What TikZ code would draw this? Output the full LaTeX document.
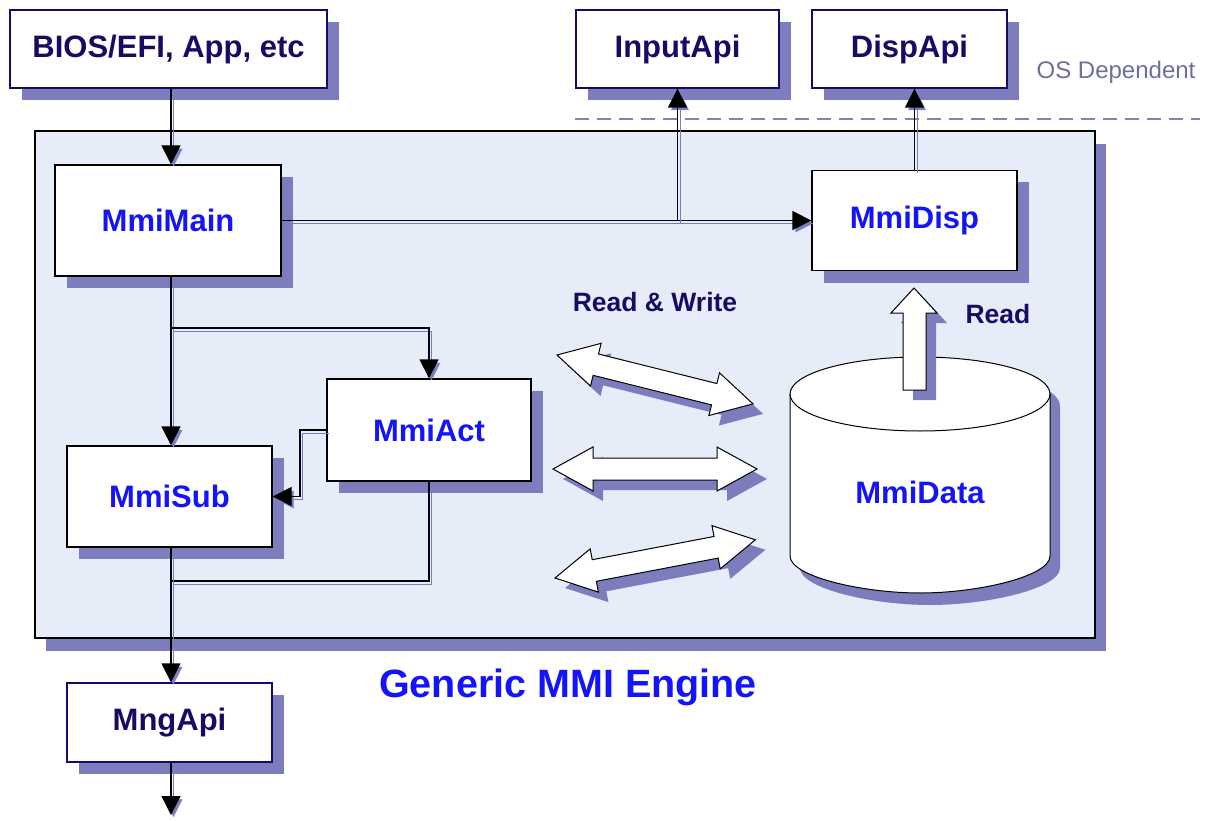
\documentclass[tikz,border=0pt]{standalone}
\usepackage{fontspec}
\setmainfont{Liberation Sans}
\usetikzlibrary{arrows.meta,shadows}

\definecolor{shadowc}{RGB}{125,125,190}
\definecolor{enginefill}{RGB}{230,236,248}
\definecolor{navytxt}{RGB}{25,10,100}
\definecolor{bluetxt}{RGB}{20,20,250}
\definecolor{navyline}{RGB}{20,10,110}
\definecolor{osgray}{RGB}{110,110,160}

\tikzset{
  boxbase/.style={rectangle, fill=white, line width=1.3pt, inner sep=0pt,
    font=\fontsize{31}{36}\selectfont\bfseries,
    drop shadow={shadow xshift=12pt, shadow yshift=-12pt, fill=shadowc, opacity=1}},
  apibox/.style={boxbase, draw=navyline, text=navytxt},
  mmibox/.style={boxbase, draw=black, text=bluetxt},
  plainconn/.style={line width=1.3pt,
    preaction={draw=shadowc, transform canvas={shift={(2.5pt,-3pt)}}}},
  conn/.style={plainconn, -{Triangle[length=19pt,width=19pt]}},
  lbl/.style={font=\fontsize{26.5}{31}\selectfont\bfseries, text=navytxt},
  fatline/.style={fill=white, draw=black, line width=1pt},
  fatshadow/.style={fill=shadowc, transform canvas={shift={(10pt,-10pt)}}}
}

% double-headed block arrow: start x, start y, rotation, length
\newcommand\fatdbl[4]{%
  \begin{scope}[shift={(#1,#2)}, rotate=#3]
    \fill[fatshadow] (0,0) -- (40,-22) -- (40,-11) -- ({#4-40},-11) -- ({#4-40},-22)
      -- (#4,0) -- ({#4-40},22) -- ({#4-40},11) -- (40,11) -- (40,22) -- cycle;
    \filldraw[fatline] (0,0) -- (40,-22) -- (40,-11) -- ({#4-40},-11) -- ({#4-40},-22)
      -- (#4,0) -- ({#4-40},22) -- ({#4-40},11) -- (40,11) -- (40,22) -- cycle;
  \end{scope}}

\begin{document}
\begin{tikzpicture}[x=1pt,y=-1pt]
\useasboundingbox (0,0) rectangle (1210,821);

% engine frame
\node[draw=black, line width=1.3pt, fill=enginefill, minimum width=1060pt,
  minimum height=507pt, inner sep=0pt,
  drop shadow={shadow xshift=11pt, shadow yshift=-13pt, fill=shadowc, opacity=1}]
  (engine) at (565,384.5) {};

% OS dependent boundary
\coordinate (dl) at (575,119);
\coordinate (dr) at (1200,119);
\draw[osgray!85, line width=1.2pt, dash pattern=on 14pt off 8pt] (dl) -- (dr);
\node[font=\fontsize{24}{28}\selectfont, text=osgray] (osdep) at (1116,72) {OS Dependent};

% boxes
\node[apibox, minimum width=317pt, minimum height=78pt] (bios) at (168.5,49) {BIOS/EFI, App, etc};
\node[apibox, minimum width=203pt, minimum height=78pt] (input) at (677.5,49) {InputApi};
\node[apibox, minimum width=195pt, minimum height=78pt] (dispapi) at (909.5,49) {DispApi};
\node[mmibox, minimum width=226pt, minimum height=111pt] (main) at (168,220.5) {MmiMain};
\node[mmibox, minimum width=205pt, minimum height=100pt] (disp) at (914.5,220.5) {MmiDisp};
\node[mmibox, minimum width=204pt, minimum height=102pt] (act) at (429,430) {MmiAct};
\node[mmibox, minimum width=205pt, minimum height=101pt] (sub) at (169.5,496.5) {MmiSub};
\node[apibox, minimum width=205pt, minimum height=79pt] (mng) at (169.5,722.5) {MngApi};

% data store cylinder
\fill[shadowc, transform canvas={shift={(10pt,-12pt)}}]
  (790,394) -- (790,556) .. controls (790,576.4) and (861.8,593) .. (920,593)
  .. controls (978.2,593) and (1050,576.4) .. (1050,556) -- (1050,394)
  .. controls (1050,373.6) and (991.8,357) .. (920,357)
  .. controls (848.2,357) and (790,373.6) .. (790,394) -- cycle;
\filldraw[fill=white, draw=black, line width=1pt]
  (790,394) -- (790,556) .. controls (790,576.4) and (861.8,593) .. (920,593)
  .. controls (978.2,593) and (1050,576.4) .. (1050,556) -- (1050,394)
  .. controls (1050,373.6) and (991.8,357) .. (920,357)
  .. controls (848.2,357) and (790,373.6) .. (790,394) -- cycle;
\draw[black, line width=1pt] (790,394) .. controls (790,414.4) and (848.2,431) .. (920,431)
  .. controls (991.8,431) and (1050,414.4) .. (1050,394);
\node[font=\fontsize{31}{36}\selectfont\bfseries, text=bluetxt] (data) at (920,492) {MmiData};

% read arrow from the store up to the display module
\fill[fatshadow] (903,390) -- (903,313) -- (891,313) -- (914,288) -- (937,313)
  -- (926,313) -- (926,390) -- cycle;
\filldraw[fatline] (903,390) -- (903,313) -- (891,313) -- (914,288) -- (937,313)
  -- (926,313) -- (926,390) -- cycle;

% read/write block arrows
\fatdbl{557}{355}{-14}{202}
\fatdbl{553}{469}{0}{204}
\fatdbl{555}{578}{10.8}{204}

% labels
\node[lbl] (rw) at (655,302) {Read \& Write};
\node[lbl] (rd) at (998,314) {Read};
\node[font=\fontsize{39.5}{46}\selectfont\bfseries, text=bluetxt] (title) at (568,687) {Generic MMI Engine};

% connectors
\coordinate (trunk) at (171,0);
\coordinate (split) at (171,328);
\coordinate (bend) at (300,0);
\coordinate (merge) at (171,581);
\coordinate (out) at (171,815);

\draw[conn] (bios.south -| trunk) -- (main.north -| trunk);
\draw[conn] (main.east) -- (disp.west);
\draw[conn] (input.south |- main.east) -- (input.south);
\draw[conn] (disp.north) -- (disp.north |- dispapi.south);
\draw[conn] (main.south -| trunk) -- (sub.north -| trunk);
\draw[conn] (split) -| (act.north);
\draw[conn] (act.west) -| (bend |- sub.east) -- (sub.east);
\draw[plainconn] (act.south) |- (merge);
\draw[conn] (sub.south -| trunk) -- (mng.north -| trunk);
\draw[conn] (mng.south -| trunk) -- (out);
\end{tikzpicture}
\end{document}
